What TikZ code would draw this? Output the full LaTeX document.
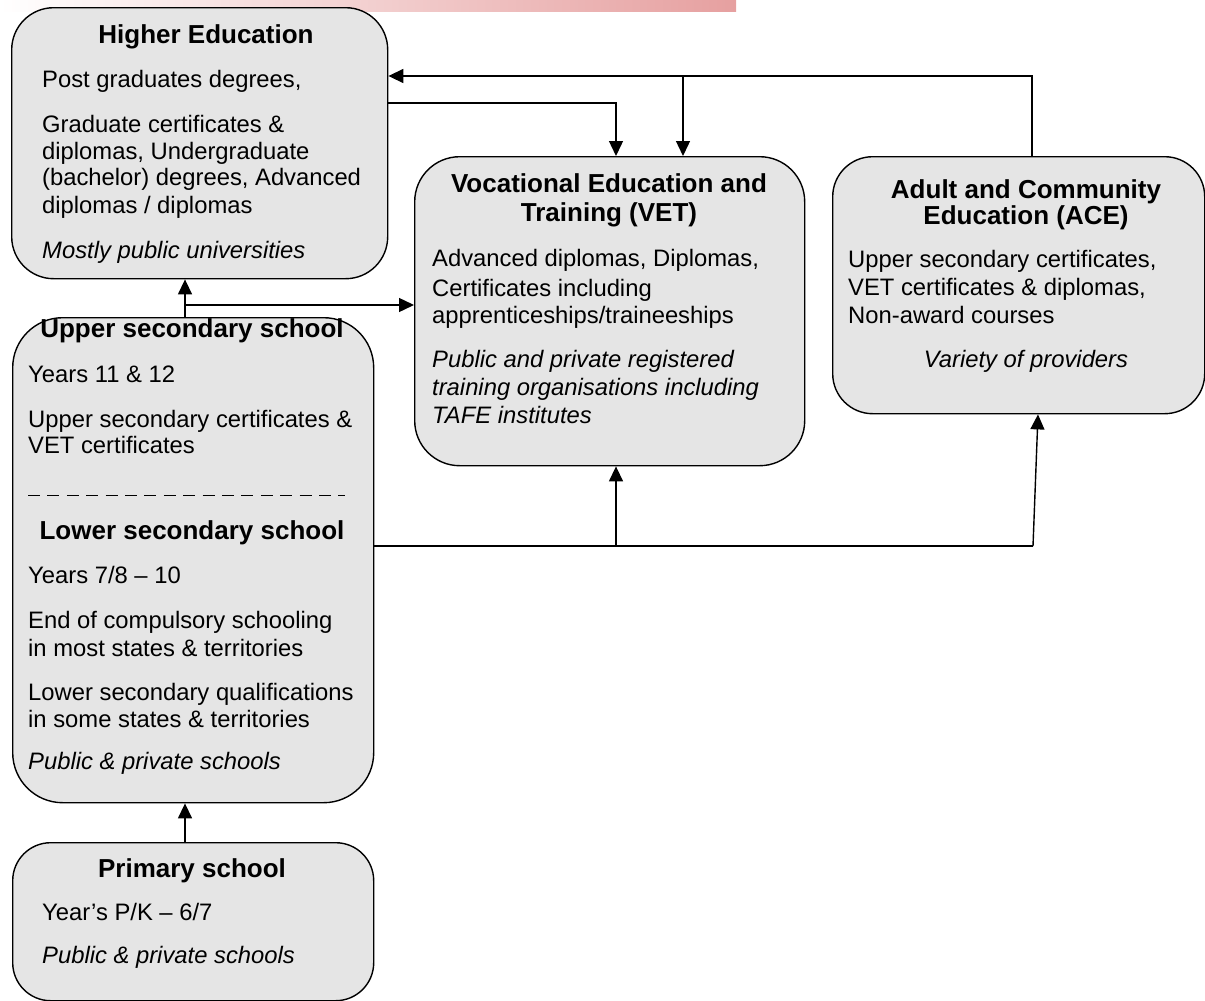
\documentclass[tikz,border=0pt]{standalone}
\usepackage{fontspec}
\setmainfont{Liberation Sans}
\usetikzlibrary{arrows.meta}
\definecolor{boxfill}{RGB}{229,229,229}
\definecolor{barpink}{RGB}{230,160,160}
\begin{document}
\begin{tikzpicture}[x=1pt,y=-1pt,
  box/.style={draw=black,line width=1.4pt,fill=boxfill,anchor=north west,inner sep=0pt},
  ttl/.style={font=\fontsize{26}{30}\selectfont\bfseries,anchor=base,inner sep=0pt},
  txt/.style={font=\fontsize{23.8}{27.5}\selectfont,anchor=base west,inner sep=0pt},
  itx/.style={txt,font=\fontsize{23.8}{27.5}\selectfont\itshape},
  conn/.style={line width=1.4pt,-{Triangle[length=15pt,width=14pt]}},
  link/.style={line width=1.4pt}]
\useasboundingbox (0,0) rectangle (1205,1001);
% top decorative bar
\shade[left color=white,right color=barpink] (0,0) rectangle (736,11);
% boxes
\node[box,rounded corners=42pt,minimum width=376pt,minimum height=271pt] (he) at (11,7) {};
\node[box,rounded corners=45pt,minimum width=390pt,minimum height=309pt] (vet) at (414,156) {};
\node[box,rounded corners=40pt,minimum width=372pt,minimum height=257pt] (ace) at (832,156) {};
\node[box,rounded corners=50pt,minimum width=361pt,minimum height=485pt] (sec) at (12,317) {};
\node[box,rounded corners=38pt,minimum width=361pt,minimum height=158pt] (prim) at (12,842) {};
% Higher Education
\node[ttl] (heT) at (206,43) {Higher Education};
\node[txt] (he1) at (42,87) {Post graduates degrees,};
\node[txt] (he2) at (42,132) {Graduate certificates \&};
\node[txt] (he3) at (42,159) {diplomas, Undergraduate};
\node[txt] (he4) at (42,185) {(bachelor) degrees, Advanced};
\node[txt] (he5) at (42,213) {diplomas / diplomas};
\node[itx] (he6) at (42,258) {Mostly public universities};
% VET
\node[ttl] (vetT1) at (609,192) {Vocational Education and};
\node[ttl] (vetT2) at (609,221) {Training (VET)};
\node[txt] (vet1) at (432,266) {Advanced diplomas, Diplomas,};
\node[txt] (vet2) at (432,296) {Certificates including};
\node[txt] (vet3) at (432,323) {apprenticeships/traineeships};
\node[itx] (vet4) at (432,367) {Public and private registered};
\node[itx] (vet5) at (432,395) {training organisations including};
\node[itx] (vet6) at (432,423) {TAFE institutes};
% ACE
\node[ttl] (aceT1) at (1026,198) {Adult and Community};
\node[ttl] (aceT2) at (1026,224) {Education (ACE)};
\node[txt] (ace1) at (848,267) {Upper secondary certificates,};
\node[txt] (ace2) at (848,295) {VET certificates \& diplomas,};
\node[txt] (ace3) at (848,323) {Non-award courses};
\node[itx,anchor=base] (ace4) at (1026,367) {Variety of providers};
% Upper / lower secondary
\node[ttl] (usT) at (192,337) {Upper secondary school};
\node[txt] (us1) at (28,382) {Years 11 \& 12};
\node[txt] (us2) at (28,427) {Upper secondary certificates \&};
\node[txt] (us3) at (28,453) {VET certificates};
\draw[line width=1pt,dash pattern=on 12pt off 7.4pt] (28,495) -- (345,495);
\node[ttl] (lsT) at (192,539) {Lower secondary school};
\node[txt] (ls1) at (28,583) {Years 7/8 -- 10};
\node[txt] (ls2) at (28,628) {End of compulsory schooling};
\node[txt] (ls3) at (28,656) {in most states \& territories};
\node[txt] (ls4) at (28,700) {Lower secondary qualifications};
\node[txt] (ls5) at (28,727) {in some states \& territories};
\node[itx] (ls6) at (28,769) {Public \& private schools};
% Primary
\node[ttl] (prT) at (192,877) {Primary school};
\node[txt] (pr1) at (42,920) {Year’s P/K -- 6/7};
\node[itx] (pr2) at (42,963) {Public \& private schools};
% junction coordinates
\coordinate (j1) at (185,305);
\coordinate (j2) at (616,103);
\coordinate (j3) at (683,76);
\coordinate (j4) at (1032,76);
\coordinate (j5) at (616,546);
\coordinate (j6) at (1033,546);
\coordinate (j7) at (1038,0);
% connectors
\draw[conn] (sec.north -| j1) -- (he.south -| j1);
\draw[conn] (j1) -- (vet.west |- j1);
\draw[conn] (he.east |- j2) -- (j2) -- (vet.north -| j2);
\draw[conn] (ace.north -| j4) -- (j4) -- (he.east |- j4);
\draw[conn] (j3) -- (vet.north -| j3);
\draw[link] (sec.east |- j5) -- (j6);
\draw[conn] (j6) -- (ace.south -| j7);
\draw[conn] (j5) -- (vet.south -| j5);
\draw[conn] (prim.north -| j1) -- (sec.south -| j1);
\end{tikzpicture}
\end{document}
